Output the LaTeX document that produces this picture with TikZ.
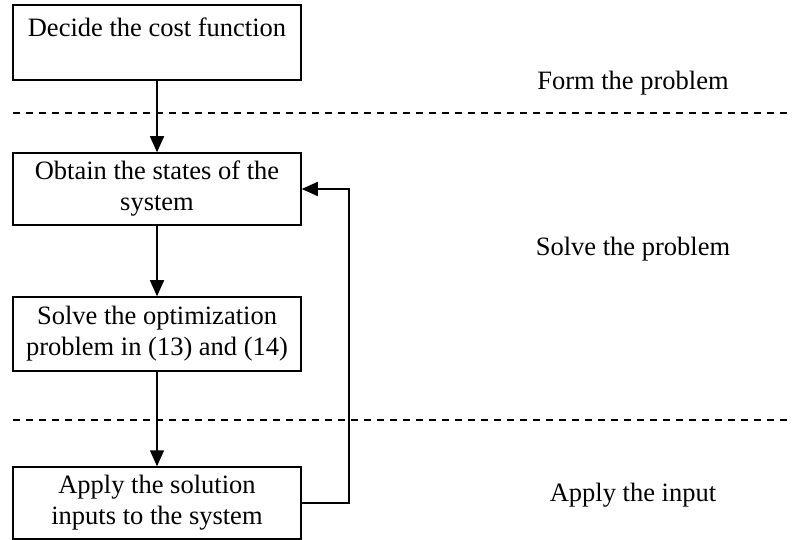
\documentclass[tikz,border=0pt]{standalone}
\usepackage{fontspec}
\setmainfont{Liberation Serif}
\usepackage{tikz}
\usetikzlibrary{arrows.meta}

\tikzset{
  stepbox/.style={draw, line width=1.5pt, minimum width=288pt, align=center,
    font=\fontsize{26.5}{31}\selectfont, inner sep=1pt},
  flow/.style={line width=1.5pt, -{Triangle[width=14pt,length=16pt]}},
  sep/.style={line width=1.3pt, dash pattern=on 7pt off 6pt},
  phase/.style={font=\fontsize{26.5}{30}\selectfont}
}

\begin{document}
\begin{tikzpicture}[x=1pt,y=-1pt] %pixel units, y downwards
\useasboundingbox (0,0) rectangle (793,540);

% boxes
\node[stepbox, minimum height=75pt] (cost) at (157,42.5) {Decide the cost function\\ \mbox{}};
\node[stepbox, minimum height=72pt] (obtain) at (157,189) {Obtain the states of the\\system};
\node[stepbox, minimum height=74pt] (solve) at (157,334) {Solve the optimization\\problem in (13) and (14)};
\node[stepbox, minimum height=72pt] (apply) at (157,503) {Apply the solution\\inputs to the system};

% phases
\node[phase] (form) at (633,83) {Form the problem};
\node[phase] (solvep) at (633,249) {Solve the problem};
\node[phase] (input) at (633,495) {Apply the input};

% separators
\foreach \y in {113,420} {
\draw[sep] (13,\y) -- (787,\y);
}

% arrows
\draw[flow] (cost) -- (obtain);
\draw[flow] (obtain) -- (solve);
\draw[flow] (solve) -- (apply);
\draw[flow] (apply.east) -- ++(47,0) |- (obtain.east);
\end{tikzpicture}
\end{document}
